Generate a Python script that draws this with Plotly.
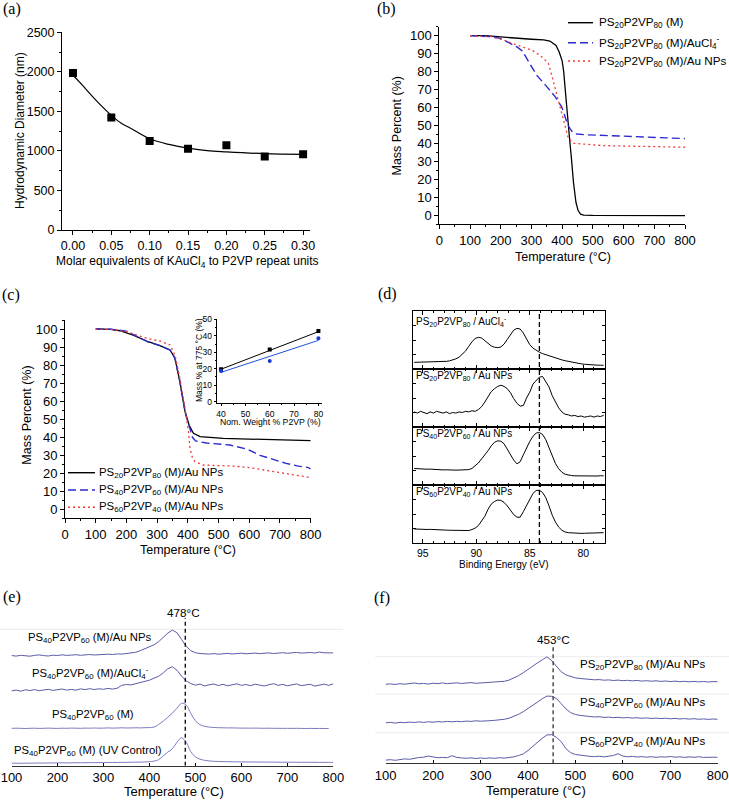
import plotly.graph_objects as go

W, H = 729, 800
SANS = "Liberation Sans, Arial, sans-serif"
SERIF = "Liberation Serif, Times New Roman, serif"

# ---------------- (a) hydrodynamic diameter ----------------
a_equiv = [0.00, 0.05, 0.10, 0.15, 0.20, 0.25, 0.30]
a_diam = [1985, 1422, 1125, 1028, 1071, 928, 957]
a_fit_x = [0, 0.0125, 0.025, 0.0375, 0.05, 0.0625, 0.075, 0.1, 0.125, 0.15, 0.175, 0.2, 0.25, 0.3]
a_fit_y = [1960, 1828, 1694, 1566, 1449, 1352, 1287, 1153, 1082, 1036, 1003, 988, 966, 957]

# ---------------- (b) TGA PS20P2VP80 ----------------
b_T_m = [100, 150, 200, 250, 300, 340, 360, 380, 390, 400, 405, 410, 415, 420, 425, 430, 437, 445, 452, 460, 470, 500, 800]
b_m = [100, 100, 99.3, 98.5, 98.0, 97.6, 97.0, 94.5, 91, 86, 80, 70, 59, 50, 41, 32, 18, 7, 2.5, 0.5, 0, -0.2, -0.3]
b_T_cl = [100, 165, 200, 230, 255, 270, 290, 317, 350, 377, 398, 409, 418, 426, 435, 447, 480, 600, 700, 800]
b_cl = [100, 99.5, 98.5, 95.8, 93.5, 91.5, 85.5, 78, 71.6, 66, 60.5, 55, 50.5, 48, 46, 45.2, 44.7, 44, 43.5, 42.6]
b_T_np = [100, 170, 208, 240, 268, 306, 333, 355, 366, 377, 393, 409, 420, 436, 534, 650, 800]
b_np = [100, 99.5, 97.6, 95.5, 93.9, 91.5, 88.3, 84.6, 78, 70.7, 59.5, 50.2, 42.8, 40, 38.7, 38.3, 37.8]

# ---------------- (c) TGA of Au NP hybrids ----------------
c_T_20 = [100, 150, 179, 222, 271, 309, 342, 358, 374, 391, 404, 418, 440, 515, 600, 700, 800]
c_20 = [100.2, 100, 99.2, 96.8, 93.1, 90.9, 88.5, 83.9, 70.9, 54.2, 46.8, 42.2, 40.4, 39.4, 39.0, 38.5, 38.1]
c_T_40 = [100, 150, 200, 270, 310, 342, 358, 374, 391, 404, 415, 425, 461, 537, 592, 635, 680, 720, 760, 790, 800]
c_40 = [100, 100, 99, 93, 90.9, 88.5, 84, 71, 54, 46, 40, 38, 36.8, 35.7, 33.5, 30, 27.5, 25.5, 24, 23.3, 22.5]
c_T_60 = [100, 150, 200, 266, 309, 342, 358, 374, 391, 402, 407, 415, 423, 450, 500, 548, 600, 657, 733, 800]
c_60 = [100, 100, 98.7, 95, 93.5, 91.3, 85.7, 72.8, 56, 43, 34, 28.5, 26.5, 24.6, 24.3, 24, 23.2, 21.5, 19.6, 17.6]

inset_p2vp = [40, 60, 80]
inset_black = [19.6, 31.6, 42.9]
inset_blue = [18.6, 24.7, 38.5]
inset_fit_x = [40, 80]
inset_fit_black = [19.7, 42.5]
inset_fit_blue = [17.8, 37.2]

# ---------------- (d) XPS Au 4f ----------------
d_be = [95.8, 95.5, 95.2, 94.9, 94.6, 94.3, 94.0, 93.7, 93.4, 93.1, 92.8, 92.5, 92.2, 91.9, 91.6,
        91.3, 91.0, 90.7, 90.4, 90.1, 89.8, 89.5, 89.2, 88.9, 88.6, 88.3, 88.0, 87.7, 87.4, 87.1,
        86.8, 86.5, 86.2, 85.9, 85.6, 85.3, 85.0, 84.7, 84.4, 84.1, 83.8, 83.5, 83.2, 82.9, 82.6,
        82.3, 82.0, 81.7, 81.4, 81.1, 80.8, 80.5, 80.2, 79.9, 79.6, 79.3, 79.0, 78.7, 78.4, 78.1]
d_aucl4 = [.115, .116, .117, .118, .119, .12, .121, .122, .124, .127, .132, .14, .153, .175, .205,
           .25, .31, .39, .47, .525, .546, .535, .485, .435, .398, .376, .368, .38, .43, .51,
           .6, .67, .70, .69, .62, .52, .42, .36, .32, .29, .265, .245, .225, .205, .19,
           .172, .157, .143, .13, .118, .107, .097, .089, .082, .076, .071, .068, .066, .065, .064]
d_ps20 = [.26, .24, .27, .25, .23, .26, .24, .27, .25, .24, .26, .23, .25, .24, .26,
          .25, .27, .26, .28, .27, .30, .35, .43, .52, .61, .66, .70, .72, .70, .66,
          .59, .49, .41, .36, .37, .50, .60, .74, .80, .86, .87, .79, .69, .54, .42,
          .33, .26, .22, .21, .19, .20, .18, .19, .17, .18, .19, .17, .19, .18, .20]
d_ps40 = [.285, .28, .283, .276, .272, .274, .268, .265, .262, .26, .262, .257, .26, .256, .258,
          .257, .26, .265, .285, .325, .38, .45, .515, .59, .675, .735, .762, .755, .71, .62,
          .52, .43, .365, .40, .52, .64, .75, .84, .895, .905, .87, .78, .64, .49, .37,
          .28, .22, .185, .17, .163, .158, .156, .155, .154, .156, .153, .157, .155, .16, .158]
d_ps60 = [.242, .238, .24, .236, .233, .235, .23, .228, .226, .224, .222, .22, .217, .214, .212,
          .21, .208, .215, .232, .258, .30, .37, .46, .58, .67, .715, .74, .735, .70, .64,
          .56, .49, .445, .445, .54, .65, .76, .855, .905, .91, .87, .78, .64, .48, .36,
          .275, .22, .19, .178, .172, .168, .167, .166, .168, .17, .172, .174, .176, .178, .178]
d_labels = ["PS<sub>20</sub>P2VP<sub>80</sub> / AuCl<sub>4</sub><sup>-</sup>",
            "PS<sub>20</sub>P2VP<sub>80</sub> / Au NPs",
            "PS<sub>40</sub>P2VP<sub>60</sub> / Au NPs",
            "PS<sub>60</sub>P2VP<sub>40</sub> / Au NPs"]
D_REF_BE = 84.1

# ---------------- (e), (f) derivative traces ----------------
temp_grid = [100, 110, 120, 130, 140, 150, 160, 170, 180, 190, 200, 210, 220, 230, 240, 250, 260, 270,
             280, 290, 300, 310, 320, 330, 340, 350, 360, 370, 380, 390, 400, 410, 420, 430, 440, 450,
             460, 470, 480, 490, 500, 510, 520, 530, 540, 550, 560, 570, 580, 590, 600, 610, 620, 630,
             640, 650, 660, 670, 680, 690, 700, 710, 720, 730, 740, 750, 760, 770, 780, 790, 800]
e_aunp = [110.2, 109.6, 110.4, 110.0, 109.5, 110.3, 110.8, 110.1, 109.7, 110.5, 110.2, 110.9, 110.3,
          110.6, 111.0, 110.4, 110.8, 111.2, 110.7, 111.1, 110.9, 111.5, 111.2, 111.8, 111.6,
          112.1, 112.6, 113.4, 115.0, 116.8, 118.6, 120.9, 124.0, 128.2, 132.6, 135.6, 133.0,
          126.2, 119.4, 115.0, 113.0, 112.2, 111.8,
          111.6, 112.1, 111.5, 111.9, 112.3, 111.7, 112.0, 112.5, 111.9, 112.2, 112.6, 112.1, 112.4,
          112.8, 112.2, 112.6, 113.0, 112.4, 112.7, 113.3, 112.6, 112.9, 113.2, 112.7, 113.6, 112.9,
          113.1, 112.8]
e_aucl4 = [74.8, 75.6, 74.5, 75.9, 75.2, 76.1, 75.0, 75.8, 76.4, 75.3, 76.0, 76.7, 75.6, 76.3, 75.5,
           76.8, 76.1, 77.0, 76.2, 76.9, 76.4, 77.3, 76.6, 77.5,
           80.4, 81.2, 80.8, 82.0, 82.6, 84.1, 85.5, 87.6, 89.4, 92.8, 96.9, 99.0, 95.4, 89.6, 84.8, 82.1,
           80.5, 81.6, 79.8, 80.9, 81.7, 80.2, 81.4, 79.9, 80.8, 81.9, 80.3, 81.2, 80.0, 81.5, 80.6,
           79.7, 81.0, 82.0, 80.4, 81.3, 79.9, 80.9, 81.8, 80.1, 80.7, 81.4, 79.6, 80.8, 81.6, 80.3, 81.9]
e_m = [37.3, 37.5, 37.4, 37.2, 37.4, 37.5, 37.3, 37.4, 37.6, 37.4, 37.3, 37.5, 37.4, 37.6, 37.5,
       37.4, 37.6, 37.5, 37.7, 37.5, 37.6, 37.8, 37.6, 37.7, 37.9, 37.7, 37.8, 37.9, 37.8, 38.0, 38.1,
       38.6, 41.2, 44.5, 48.5, 52.6, 57.5, 62.4, 60.8, 52.3, 45.0, 41.0, 39.4,
       38.6, 38.2, 38.0, 37.9, 37.8, 37.8, 37.7, 37.6, 37.6, 37.5, 37.6, 37.5, 37.4, 37.5, 37.4,
       37.4, 37.3, 37.4, 37.3, 37.4, 37.3, 37.2, 37.3, 37.2, 37.3, 37.2, 37.2]
e_uv = [2.4, 2.5, 2.4, 2.6, 2.5, 2.6, 2.7, 2.6, 2.8, 2.7, 2.8, 2.9, 2.8, 2.9, 3.0, 2.9, 3.0, 3.1,
        3.0, 3.2, 3.1, 3.2, 3.3, 3.2, 3.4, 3.3, 3.5, 3.5, 3.6, 3.7,
        4.0, 4.6, 6.0, 9.8, 13.6, 17.0, 23.5, 27.8, 23.6, 14.0, 8.8, 6.5, 5.4, 4.8,
        4.4, 4.2, 4.1, 4.0, 3.9, 3.9, 3.8, 3.8, 3.7, 3.7, 3.7, 3.6, 3.6, 3.6, 3.5, 3.5, 3.5, 3.5,
        3.4, 3.4, 3.4, 3.4, 3.4, 3.3, 3.3, 3.4, 3.3]
e_labels = ["PS<sub>40</sub>P2VP<sub>60</sub> (M)/Au NPs",
            "PS<sub>40</sub>P2VP<sub>60</sub> (M)/AuCl<sub>4</sub><sup>-</sup>",
            "PS<sub>40</sub>P2VP<sub>60</sub> (M)",
            "PS<sub>40</sub>P2VP<sub>60</sub> (M) (UV Control)"]
E_PEAK = 478

f_20 = [79.0, 79.4, 78.8, 79.6, 79.1, 79.8, 80.3, 79.5, 79.9, 79.2, 80.1, 79.7, 80.4, 79.6, 80.0,
        80.5, 79.8, 80.2, 80.7, 80.0, 80.4, 80.9, 80.6, 81.2, 81.4,
        82.0, 83.2, 85.2, 87.6, 90.6, 94.0, 97.6, 100.4, 103.4, 106.4, 102.6, 97.4, 91.6, 88.4, 86.6,
        85.4, 84.8, 84.2,
        83.9, 83.5, 83.7, 83.1, 83.4, 82.8, 83.2, 82.6, 83.0, 82.4, 82.9, 82.2, 82.6, 82.1, 82.5,
        81.9, 82.3, 81.7, 82.2, 81.6, 82.0, 81.5, 81.9, 81.4, 81.8, 81.3, 81.7, 81.6]
f_40 = [40.5, 40.9, 40.2, 41.0, 40.6, 41.2, 40.8, 41.4, 40.9, 41.5, 41.1, 41.7, 41.3, 41.9, 41.5,
        42.0, 41.6, 42.2, 41.9, 42.5, 42.1, 42.7, 42.6, 43.0, 43.4,
        44.0, 45.1, 46.8, 49.0, 51.6, 54.6, 57.8, 61.2, 64.6, 67.2, 67.0, 64.8, 59.6, 54.4, 50.6,
        48.8, 47.9, 47.2,
        46.8, 46.3, 46.6, 45.9, 46.2, 45.6, 46.0, 45.4, 45.8, 45.2, 45.6, 45.0, 45.4, 44.8, 45.2,
        44.7, 45.1, 44.5, 44.9, 44.3, 44.7, 44.2, 44.6, 44.0, 44.4, 43.9, 44.3, 44.0]
f_60 = [3.2, 3.6, 3.0, 3.8, 4.4, 4.0, 5.2, 5.8, 6.1, 7.2, 6.4, 5.6, 5.9, 5.6, 7.6, 5.9, 5.4, 5.0,
        5.5, 4.8, 5.3, 4.9, 5.4, 5.0, 5.6,
        5.2, 5.8, 6.4, 7.8, 9.4, 12.8, 17.0, 21.2, 25.0, 28.4, 28.6, 26.0, 21.6, 14.6, 10.6, 8.8,
        8.0, 7.4,
        7.0, 6.6, 7.1, 6.4, 6.9, 7.8, 9.6, 7.2, 6.5, 6.9, 6.3, 6.7, 6.1, 6.6, 6.0, 6.5, 6.2, 6.8,
        6.1, 6.5, 5.9, 6.4, 6.0, 6.6, 5.9, 6.3, 6.1, 6.0]
f_labels = ["PS<sub>20</sub>P2VP<sub>80</sub> (M)/Au NPs",
            "PS<sub>40</sub>P2VP<sub>60</sub> (M)/Au NPs",
            "PS<sub>60</sub>P2VP<sub>40</sub> (M)/Au NPs"]
F_PEAK = 453

BLUE = "#2a2ad0"
RED = "#f03a3a"
PURPLE = "#5b5ba8"
PURPLE_L = "#7b7bc0"


def px(x):
    return x / W


def py(y):
    return 1 - y / H


def axis(domain, rng, anchor, size=12.5, **kw):
    d = dict(domain=domain, range=rng, anchor=anchor, showgrid=False, zeroline=False,
             showline=True, linecolor="black", linewidth=1, ticks="outside", ticklen=4,
             tickcolor="black", automargin=False,
             tickfont=dict(family=SANS, size=size, color="black"))
    d.update(kw)
    return d


fig = go.Figure()

# (a)
fig.add_trace(go.Scatter(x=a_fit_x, y=a_fit_y, mode="lines", line=dict(color="black", width=1.2, shape="spline"),
                         xaxis="x", yaxis="y"))
fig.add_trace(go.Scatter(x=a_equiv, y=a_diam, mode="markers", marker=dict(symbol="square", size=8, color="black"),
                         xaxis="x", yaxis="y"))

# (b)
fig.add_trace(go.Scatter(x=b_T_m, y=b_m, mode="lines", line=dict(color="black", width=1.3), xaxis="x2", yaxis="y2"))
fig.add_trace(go.Scatter(x=b_T_cl, y=b_cl, mode="lines", line=dict(color=BLUE, width=1.4, dash="8px,4px"),
                         xaxis="x2", yaxis="y2"))
fig.add_trace(go.Scatter(x=b_T_np, y=b_np, mode="lines", line=dict(color=RED, width=1.3, dash="2px,3px"),
                         xaxis="x2", yaxis="y2"))

# (c)
fig.add_trace(go.Scatter(x=c_T_20, y=c_20, mode="lines", line=dict(color="black", width=1.3), xaxis="x3", yaxis="y3"))
fig.add_trace(go.Scatter(x=c_T_40, y=c_40, mode="lines", line=dict(color=BLUE, width=1.4, dash="8px,4px"),
                         xaxis="x3", yaxis="y3"))
fig.add_trace(go.Scatter(x=c_T_60, y=c_60, mode="lines", line=dict(color=RED, width=1.3, dash="2px,3px"),
                         xaxis="x3", yaxis="y3"))
fig.add_trace(go.Scatter(x=inset_fit_x, y=inset_fit_black, mode="lines", line=dict(color="black", width=1),
                         xaxis="x4", yaxis="y4"))
fig.add_trace(go.Scatter(x=inset_fit_x, y=inset_fit_blue, mode="lines", line=dict(color="#2050e0", width=1),
                         xaxis="x4", yaxis="y4"))
fig.add_trace(go.Scatter(x=inset_p2vp, y=inset_black, mode="markers", marker=dict(symbol="square", size=4, color="black"),
                         xaxis="x4", yaxis="y4"))
fig.add_trace(go.Scatter(x=inset_p2vp, y=inset_blue, mode="markers", marker=dict(symbol="circle", size=4, color="#1838d0"),
                         xaxis="x4", yaxis="y4"))

# (d)
for i, spec in enumerate([d_aucl4, d_ps20, d_ps40, d_ps60]):
    fig.add_trace(go.Scatter(x=d_be, y=spec, mode="lines", line=dict(color="black", width=1),
                             xaxis=f"x{5 + i}", yaxis=f"y{5 + i}"))

# (e)
for trace, col, shp in [(e_aunp, PURPLE, "linear"), (e_aucl4, PURPLE, "linear"),
                        (e_m, PURPLE_L, "spline"), (e_uv, PURPLE_L, "spline")]:
    fig.add_trace(go.Scatter(x=temp_grid, y=trace, mode="lines", line=dict(color=col, width=1, shape=shp),
                             xaxis="x9", yaxis="y9"))

# (f)
for trace in [f_20, f_40, f_60]:
    fig.add_trace(go.Scatter(x=temp_grid, y=trace, mode="lines", line=dict(color=PURPLE, width=1),
                             xaxis="x10", yaxis="y10"))

lay = dict(width=W, height=H, margin=dict(l=0, r=0, t=0, b=0, pad=0), showlegend=False,
           paper_bgcolor="white", plot_bgcolor="white", font=dict(family=SANS, color="black"))

lay["xaxis"] = axis([px(62), px(310)], [-0.0143, 0.309], "y", tick0=0, dtick=0.05, tickformat=".2f",
                    minor=dict(dtick=0.025, ticks="outside", ticklen=2, tickcolor="black"))
lay["yaxis"] = axis([py(230), py(32.3)], [0, 2500], "x", dtick=500,
                    minor=dict(dtick=250, ticks="outside", ticklen=2, tickcolor="black"))

lay["xaxis2"] = axis([px(439.3), px(685)], [0, 800], "y2", size=13, dtick=100,
                     minor=dict(dtick=50, ticks="outside", ticklen=2, tickcolor="black"))
lay["yaxis2"] = axis([py(224), py(26.7)], [-5, 105], "x2", size=13, tick0=0, dtick=10,
                     minor=dict(dtick=5, ticks="outside", ticklen=2, tickcolor="black"))

lay["xaxis3"] = axis([px(65), px(310.7)], [0, 800], "y3", size=13, dtick=100,
                     minor=dict(dtick=50, ticks="outside", ticklen=2, tickcolor="black"))
lay["yaxis3"] = axis([py(518.3), py(320.3)], [-5, 105], "x3", size=13, tick0=0, dtick=10,
                     minor=dict(dtick=5, ticks="outside", ticklen=2, tickcolor="black"))

lay["xaxis4"] = axis([px(216.7), px(322.3)], [38.2, 81.6], "y4", size=8.5, tick0=40, dtick=10, ticklen=2,
                     minor=dict(dtick=5, ticks="outside", ticklen=1, tickcolor="black"))
lay["yaxis4"] = axis([py(403.3), py(319.3)], [-1, 50], "x4", size=8.5, tick0=0, dtick=10, ticklen=2,
                     minor=dict(dtick=5, ticks="outside", ticklen=1, tickcolor="black"))

sub_edges = [311, 369, 427, 485, 543]
for i in range(4):
    n = 5 + i
    lay[f"xaxis{n}"] = axis([px(413.3), px(605)], [95.88, 77.97], f"y{n}", size=10.5,
                            tickvals=[95, 90, 85, 80], ticks="inside", ticklen=4, mirror="ticks",
                            showticklabels=(i == 3),
                            minor=dict(dtick=1, ticks="inside", ticklen=2, tickcolor="black"))
    lay[f"yaxis{n}"] = axis([py(sub_edges[i + 1]), py(sub_edges[i])], [0, 1], f"x{n}",
                            tick0=0, dtick=0.25, ticks="inside", ticklen=3, mirror="ticks",
                            showticklabels=False)

lay["xaxis9"] = axis([px(11.5), px(333.3)], [100, 800], "y9", size=13, dtick=100, ticks="inside",
                     ticklen=3, linecolor="#333")
lay["yaxis9"] = dict(domain=[py(765.7), py(615.7)], range=[0, 150], anchor="x9", visible=False)
lay["xaxis10"] = axis([px(385.7), px(717.7)], [100, 800], "y10", size=13, dtick=100, ticks="inside",
                      ticklen=3, linecolor="#333")
lay["yaxis10"] = dict(domain=[py(763.3), py(633.3)], range=[0, 130], anchor="x10", visible=False)

shapes = []
# reference lines
shapes.append(dict(type="line", xref="x5", yref="paper", x0=D_REF_BE, x1=D_REF_BE, y0=py(543), y1=py(311),
                   line=dict(color="black", width=1.3, dash="5px,3px")))
shapes.append(dict(type="line", xref="x9", yref="y9", x0=E_PEAK, x1=E_PEAK, y0=0, y1=147.7,
                   line=dict(color="black", width=1.3, dash="4px,3px")))
shapes.append(dict(type="line", xref="x10", yref="y10", x0=F_PEAK, x1=F_PEAK, y0=0, y1=116.6,
                   line=dict(color="#333", width=1.3, dash="4px,3px")))
# faint guide lines
shapes.append(dict(type="line", xref="paper", yref="paper", x0=0, x1=px(343), y0=py(629.3), y1=py(629.3),
                   line=dict(color="#ececec", width=1), layer="below"))
for gy in [656.7, 694, 732.7]:
    shapes.append(dict(type="line", xref="paper", yref="paper", x0=px(375), x1=1, y0=py(gy), y1=py(gy),
                       line=dict(color="#ececec", width=1), layer="below"))

# manual legends
b_leg = [("PS<sub>20</sub>P2VP<sub>80</sub> (M)", "black", "solid"),
         ("PS<sub>20</sub>P2VP<sub>80</sub> (M)/AuCl<sub>4</sub><sup>-</sup>", BLUE, "8px,4px"),
         ("PS<sub>20</sub>P2VP<sub>80</sub> (M)/Au NPs", RED, "2px,3px")]
c_leg = [("PS<sub>20</sub>P2VP<sub>80</sub> (M)/Au NPs", "black", "solid"),
         ("PS<sub>40</sub>P2VP<sub>60</sub> (M)/Au NPs", BLUE, "8px,4px"),
         ("PS<sub>60</sub>P2VP<sub>40</sub> (M)/Au NPs", RED, "2px,3px")]

ann = []


def text(x, y, s, size=13, xanchor="center", yanchor="middle", angle=0, family=SANS, color="black"):
    ann.append(dict(x=px(x), y=py(y), xref="paper", yref="paper", text=s, showarrow=False,
                    xanchor=xanchor, yanchor=yanchor, textangle=angle, borderpad=0,
                    font=dict(family=family, size=size, color=color)))


for (lbl, col, dash), ly in zip(b_leg, [22.7, 42.7, 61]):
    shapes.append(dict(type="line", xref="paper", yref="paper", x0=px(568), x1=px(593), y0=py(ly), y1=py(ly),
                       line=dict(color=col, width=1.4, dash=dash)))
    text(598, ly, lbl, size=11.7, xanchor="left")
for (lbl, col, dash), ly in zip(c_leg, [472.7, 490, 507.3]):
    shapes.append(dict(type="line", xref="paper", yref="paper", x0=px(68), x1=px(95), y0=py(ly), y1=py(ly),
                       line=dict(color=col, width=1.4, dash=dash)))
    text(98.3, ly, lbl, size=11.4, xanchor="left")

# panel letters
for s, x, y in [("(a)", 2, 9.5), ("(b)", 376, 9.5), ("(c)", 1, 295), ("(d)", 377, 294), ("(e)", 2, 597), ("(f)", 373, 598)]:
    text(x, y, s, size=16, xanchor="left", family=SERIF)

# axis titles
text(20, 131, "Hydrodynamic Diameter (nm)", size=12, angle=-90)
text(187, 262, "Molar equivalents of KAuCl<sub>4</sub> to P2VP repeat units", size=12)
text(396.7, 125.8, "Mass Percent (%)", size=12.5, angle=-90)
text(562.7, 256.7, "Temperature (°C)", size=12.5)
text(26.7, 415, "Mass Percent (%)", size=12.5, angle=-90)
text(188.3, 550, "Temperature (°C)", size=12.5)
text(199, 360, "Mass % at 775 °C (%)", size=8.5, angle=-90)
text(270, 421.5, "Nom. Weight % P2VP (%)", size=8.7)
text(504.3, 564.5, "Binding Energy (eV)", size=10)
text(173.7, 791.7, "Temperature (°C)", size=13)
text(536, 790, "Temperature (°C)", size=13)

# (d) spectrum labels
for lbl, ly in zip(d_labels, [321.7, 376, 434, 492.3]):
    text(415, ly, lbl, size=10, xanchor="left")

# (e)/(f) labels
for lbl, lx, ly in zip(e_labels, [89.3, 90.7, 93.3, 87.7], [638.3, 673.3, 715, 750.7]):
    text(lx, ly, lbl, size=11.3)
for lbl, ly in zip(f_labels, [665, 703.3, 742.3]):
    text(579.3, ly, lbl, size=11.5, xanchor="left")
text(184, 612.7, f"{E_PEAK}°C", size=11.7)
text(553.3, 639.3, f"{F_PEAK}°C", size=11.7)

lay["shapes"] = shapes
lay["annotations"] = ann
fig.update_layout(**lay)

# the page body has a default 8px margin; drop it so the figure sits at the window origin
fig.write_html("out.html", config={"displayModeBar": False},
               post_script="document.body.style.margin = '0';")
